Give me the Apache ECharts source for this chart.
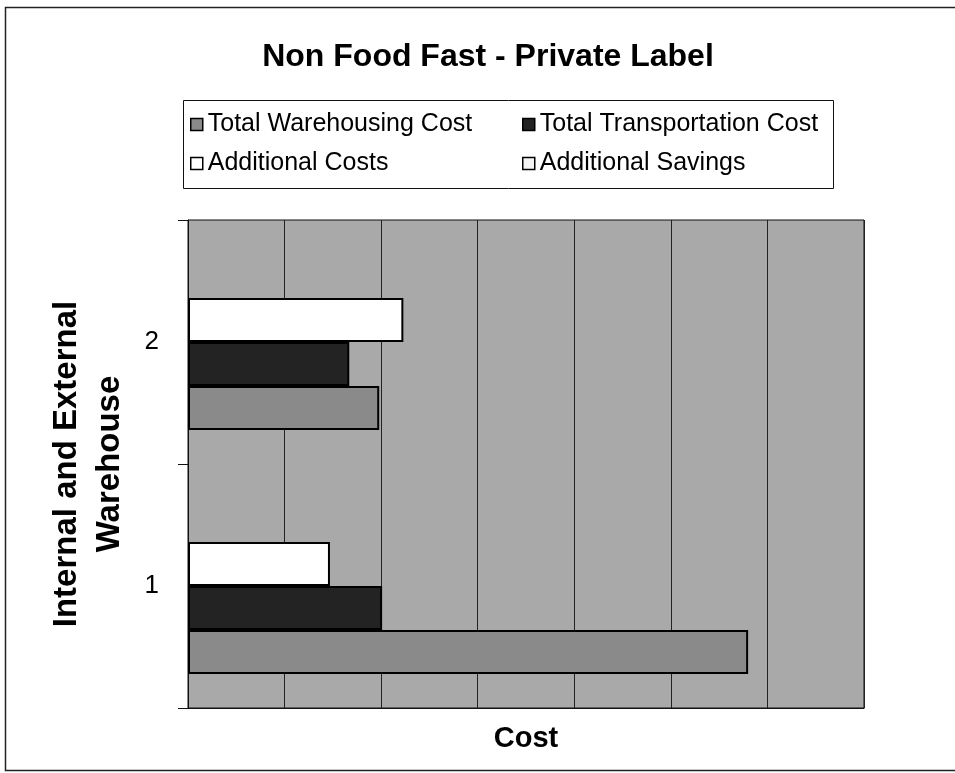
<!DOCTYPE html>
<html>
<head>
<meta charset="utf-8">
<title>Non Food Fast - Private Label</title>
<script src="https://cdn.jsdelivr.net/npm/echarts@6/dist/echarts.min.js"></script>
<style>
  html, body { margin: 0; padding: 0; background: #ffffff; }
  #chart { width: 955px; height: 773px; }
</style>
</head>
<body>
<div id="chart"></div>
<script>
// Warehouse scenarios (category axis) and cost components per scenario
const categories = ['1', '2'];
const warehousingCost = [5.80, 1.98];
const transportationCost = [2.01, 1.67];
const additionalCosts = [1.47, 2.23];
const additionalSavings = [0, 0];

const seriesNames = [
  'Total Warehousing Cost',
  'Total Transportation Cost',
  'Additional Costs',
  'Additional Savings'
];

const FONT = '"Liberation Sans", Arial, Helvetica, sans-serif';
const colors = {
  warehousing: '#8a8a8a',
  transportation: '#232323',
  additional: '#ffffff',
  savings: '#f4f4f4'
};

const chart = echarts.init(document.getElementById('chart'), null, { renderer: 'canvas' });

const legendText = { fontFamily: FONT, fontSize: 25, color: '#000' };
const legendIcon = (color) => ({ color: color, borderColor: '#000', borderWidth: 1.5 });

function barSeries(name, data, color, borderWidth) {
  return {
    name: name,
    type: 'bar',
    data: data,
    barWidth: 44,
    barGap: '0%',
    itemStyle: { color: color, borderColor: '#000', borderWidth: borderWidth },
    emphasis: { disabled: true },
    animation: false
  };
}

chart.setOption({
  backgroundColor: '#ffffff',
  title: {
    text: 'Non Food Fast - Private Label',
    left: 483,
    textAlign: 'center',
    top: 36,
    textStyle: { fontFamily: FONT, fontSize: 32, fontWeight: 'bold', color: '#000' }
  },
  legend: [
    {
      orient: 'vertical',
      left: 190,
      top: 112,
      padding: 0,
      itemWidth: 12,
      itemHeight: 12,
      itemGap: 14,
      icon: 'rect',
      textStyle: legendText,
      selectedMode: false,
      data: [
        { name: seriesNames[0], itemStyle: legendIcon(colors.warehousing) },
        { name: seriesNames[2], itemStyle: legendIcon(colors.additional) }
      ]
    },
    {
      orient: 'vertical',
      left: 522,
      top: 112,
      padding: 0,
      itemWidth: 12,
      itemHeight: 12,
      itemGap: 14,
      icon: 'rect',
      textStyle: legendText,
      selectedMode: false,
      data: [
        { name: seriesNames[1], itemStyle: legendIcon(colors.transportation) },
        { name: seriesNames[3], itemStyle: legendIcon(colors.savings) }
      ]
    }
  ],
  grid: {
    left: 188,
    right: 91,
    top: 220,
    bottom: 65,
    show: true,
    backgroundColor: '#a9a9a9',
    borderColor: '#111',
    borderWidth: 1
  },
  xAxis: {
    type: 'value',
    min: 0,
    max: 7,
    interval: 1,
    name: 'Cost',
    nameLocation: 'middle',
    nameGap: 16,
    nameTextStyle: { fontFamily: FONT, fontSize: 29, fontWeight: 'bold', color: '#000', verticalAlign: 'top' },
    axisLine: { show: true, lineStyle: { color: '#111', width: 1 } },
    axisTick: { show: false },
    axisLabel: { show: false },
    splitLine: { show: true, lineStyle: { color: '#222', width: 1 } }
  },
  yAxis: {
    type: 'category',
    data: categories,
    name: 'Internal and External\nWarehouse',
    nameLocation: 'middle',
    nameGap: 57,
    nameTextStyle: { fontFamily: FONT, fontSize: 33, fontWeight: 'bold', color: '#000', lineHeight: 43, align: 'center' },
    axisLine: { show: true, lineStyle: { color: '#111', width: 1 } },
    axisTick: { show: true, length: 10, inside: false, lineStyle: { color: '#111' } },
    axisLabel: { fontFamily: FONT, fontSize: 26, color: '#000', margin: 29 },
    splitLine: { show: false }
  },
  series: [
    barSeries(seriesNames[3], additionalSavings, colors.savings, 0),
    barSeries(seriesNames[2], additionalCosts, colors.additional, 2),
    barSeries(seriesNames[1], transportationCost, colors.transportation, 2),
    barSeries(seriesNames[0], warehousingCost, colors.warehousing, 2)
  ],
  graphic: [
    {
      // legend frame
      type: 'rect',
      shape: { x: 183.5, y: 100.5, width: 650, height: 88 },
      style: { fill: 'none', stroke: '#111', lineWidth: 1 },
      silent: true
    },
    {
      // outer chart frame
      type: 'rect',
      shape: { x: 5.5, y: 7.5, width: 1000, height: 763 },
      style: { fill: 'none', stroke: '#222', lineWidth: 1.5 },
      silent: true
    }
  ]
});
</script>
</body>
</html>
